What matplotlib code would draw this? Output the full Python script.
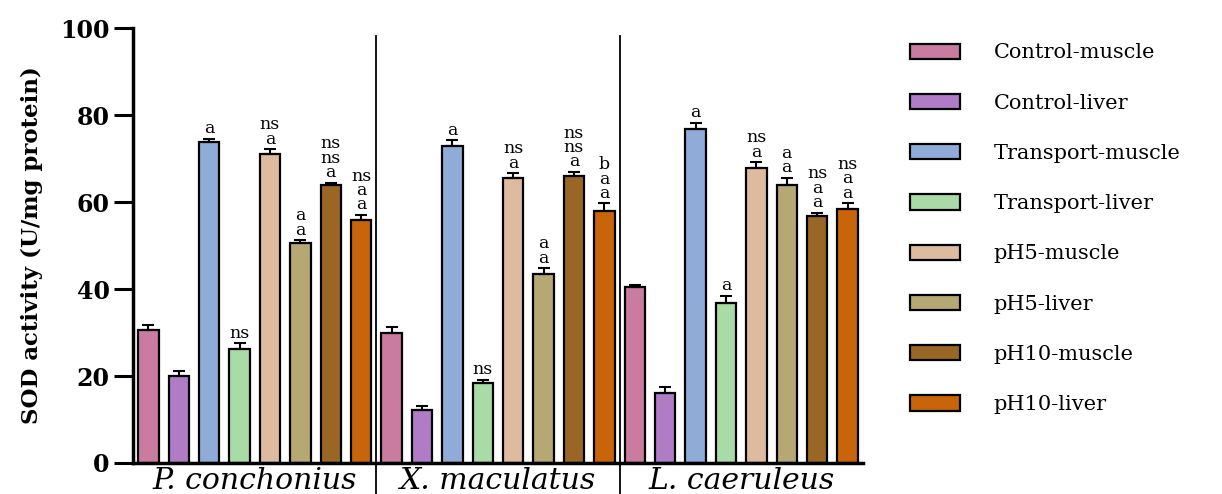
import matplotlib
matplotlib.use("Agg")
import matplotlib.pyplot as plt
import numpy as np
from matplotlib.patches import Patch

# Species groups and treatment/tissue series
species = ["P. conchonius", "X. maculatus", "L. caeruleus"]
series = ["Control-muscle", "Control-liver", "Transport-muscle", "Transport-liver",
          "pH5-muscle", "pH5-liver", "pH10-muscle", "pH10-liver"]
colors = ["#C97BA0", "#B07CC6", "#8FACD8", "#A9DBA6",
          "#DEBB9F", "#B5A872", "#9A6626", "#C8640A"]

# SOD activity (U/mg protein), one row per species, one column per series
sod = np.array([
    [30.7, 20.1, 73.8, 26.2, 71.1, 50.5, 63.9, 55.9],
    [29.8, 12.3, 72.9, 18.4, 65.6, 43.5, 66.1, 57.9],
    [40.5, 16.1, 76.9, 36.8, 67.9, 64.0, 56.8, 58.4],
])
sem = np.array([
    [1.0, 1.0, 0.8, 1.3, 1.1, 0.8, 0.6, 1.2],
    [1.4, 0.9, 1.4, 0.8, 1.1, 1.3, 0.9, 1.8],
    [0.5, 1.3, 1.4, 1.7, 1.3, 1.6, 0.8, 1.4],
])

# Significance letters above each bar (top line first)
letters = [
    ["", "", "a", "ns", "ns\na", "a\na", "ns\nns\na", "ns\na\na"],
    ["", "", "a", "ns", "ns\na", "a\na", "ns\nns\na", "b\na\na"],
    ["", "", "a", "a", "ns\na", "a\na", "ns\na\na", "ns\na\na"],
]

plt.rcParams["font.family"] = "DejaVu Serif"

fig = plt.figure(figsize=(12.22, 4.94), dpi=100)
ax = fig.add_axes([0.109, 0.0628, 0.597, 0.880])

nser = len(series)
width = 0.67
for g in range(len(species)):
    for j in range(nser):
        x = g * nser + j
        ax.bar(x, sod[g, j], width=width, color=colors[j],
               edgecolor="black", linewidth=1.6, zorder=2)
        ax.errorbar(x, sod[g, j], yerr=[[0], [sem[g, j]]], fmt="none",
                    ecolor="black", elinewidth=1.5, capsize=4.5,
                    capthick=1.5, zorder=3)
        if letters[g][j]:
            ax.annotate(letters[g][j], (x, sod[g, j] + sem[g, j]),
                        xytext=(0, 1), textcoords="offset points",
                        ha="center", va="bottom", fontsize=12.5,
                        linespacing=0.8, zorder=4)
    # species name under the group
    ax.text(g * nser + (nser - 1) / 2, -1.0, species[g], ha="center",
            va="top", fontsize=21.5, style="italic")

# separators between species groups
for g in range(1, len(species)):
    ax.axvline(g * nser - 0.5, ymin=-0.08, ymax=0.983, color="black",
               linewidth=1.3, clip_on=False, zorder=1)

ax.set_xlim(-0.5, len(species) * nser - 0.5)
ax.set_ylim(0, 100)
ax.set_yticks(np.arange(0, 101, 20))
ax.set_xticks([])
ax.spines["top"].set_visible(False)
ax.spines["right"].set_visible(False)
ax.spines["left"].set_linewidth(2.5)
ax.spines["bottom"].set_linewidth(2.5)
ax.tick_params(axis="y", length=14, width=2.2, pad=3)
for lab in ax.get_yticklabels():
    lab.set_fontsize(17)
    lab.set_fontweight("bold")
ax.set_ylabel("SOD activity (U/mg protein)", fontsize=16.5, fontweight="bold",
              labelpad=12)

handles = [Patch(facecolor=c, edgecolor="black", linewidth=1.6) for c in colors]
fig.legend(handles, series, loc="upper left", bbox_to_anchor=(0.745, 0.912),
           frameon=False, fontsize=15, handlelength=2.4, handleheight=0.75,
           handletextpad=1.6, labelspacing=1.5, borderpad=0, borderaxespad=0)

fig.savefig("out.png", dpi=100)
